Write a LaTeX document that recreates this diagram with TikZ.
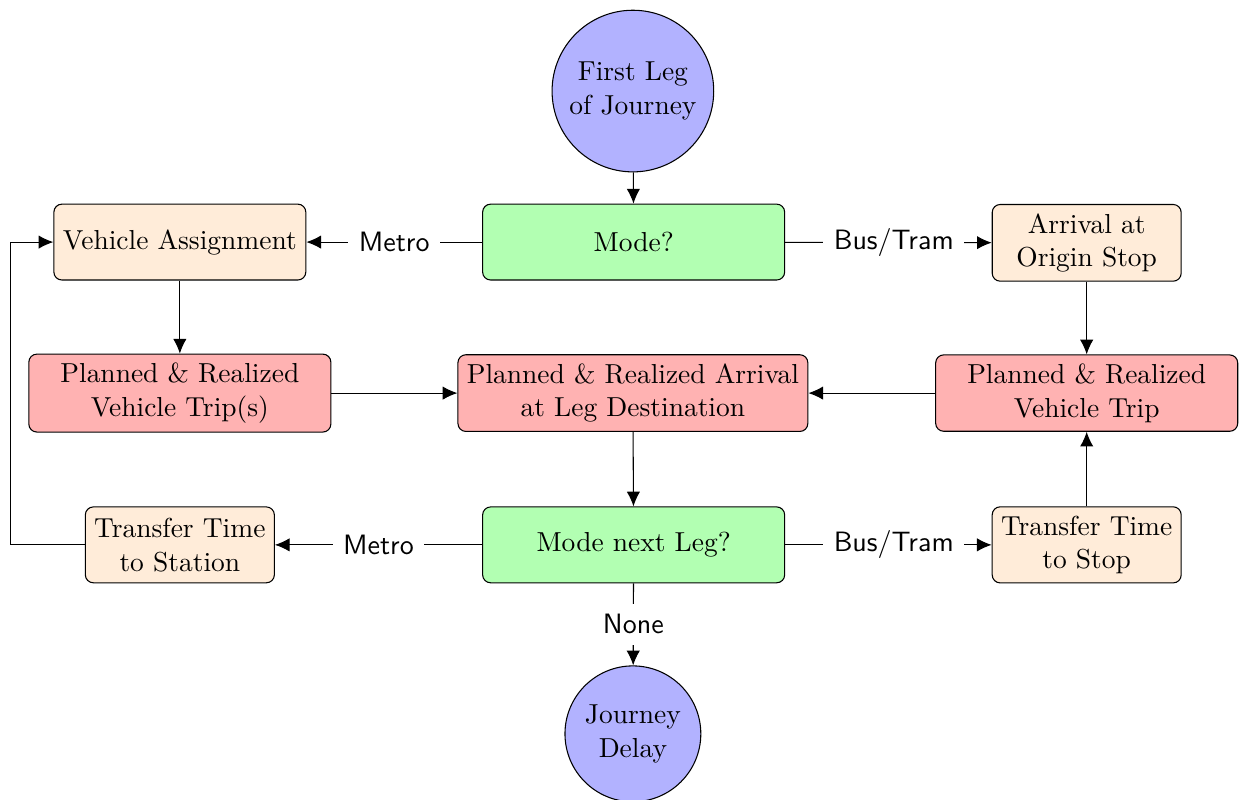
\documentclass[tikz,border=0pt]{standalone}
\usetikzlibrary{arrows.meta}
\begin{document}
\begin{tikzpicture}[
    box/.style={draw, rounded corners=3pt, minimum height=1cm, align=center,
                font=\fontsize{10.3}{12.6}\selectfont},
    term/.style={draw, circle, fill=blue!30, align=center, inner sep=0pt,
                font=\fontsize{10.3}{12.6}\selectfont},
    arrow/.style={-{Latex[length=5.5pt, width=5pt]}},
    lbl/.style={fill=white, inner sep=4pt, font=\sffamily\fontsize{10.5}{12.6}\selectfont}
]
\useasboundingbox (0,0) rectangle (16.38,-10.54);

% start
\node[term, minimum size=2.13cm] (start) at (8.34, -1.20) {First Leg\\of Journey};

% first row
\node[box, fill=green!30, minimum width=3.98cm] (mode) at (8.35, -3.19) {Mode?};
\node[box, fill=orange!15, minimum width=3.32cm] (assign) at (2.37, -3.19) {Vehicle Assignment};
\node[box, fill=orange!15, minimum width=2.49cm] (origin) at (14.32, -3.20) {Arrival at\\Origin Stop};

% second row
\node[box, fill=red!30, minimum width=3.98cm] (tripmetro) at (2.37, -5.18) {Planned \& Realized\\Vehicle Trip(s)};
\node[box, fill=red!30, minimum width=4.52cm] (arrival) at (8.34, -5.18) {Planned \& Realized Arrival\\at Leg Destination};
\node[box, fill=red!30, minimum width=3.98cm] (tripbus) at (14.32, -5.18) {Planned \& Realized\\Vehicle Trip};

% third row
\node[box, fill=orange!15, minimum width=2.49cm] (tostation) at (2.37, -7.18) {Transfer Time\\to Station};
\node[box, fill=green!30, minimum width=3.98cm] (nextmode) at (8.35, -7.18) {Mode next Leg?};
\node[box, fill=orange!15, minimum width=2.49cm] (tostop) at (14.32, -7.18) {Transfer Time\\to Stop};

% end
\node[term, minimum size=1.79cm] (delay) at (8.34, -9.67) {Journey\\Delay};

% Arrows
\draw[arrow] (start) -- (mode);
\draw[arrow] (mode) -- node[lbl] {Metro} (assign);
\draw[arrow] (mode) -- node[lbl, xshift=2pt] {Bus/Tram} (origin);
\draw[arrow] (assign) -- (tripmetro);
\draw[arrow] (origin) -- (tripbus);
\draw[arrow] (tripmetro) -- (arrival);
\draw[arrow] (tripbus) -- (arrival);
\draw[arrow] (arrival) -- (nextmode);
\draw[arrow] (nextmode) -- node[lbl] {Metro} (tostation);
\draw[arrow] (nextmode) -- node[lbl, xshift=2pt] {Bus/Tram} (tostop);
\draw[arrow] (tostop) -- (tripbus);
\draw[arrow] (nextmode) -- node[lbl] {None} (delay);

% loop back to vehicle assignment
\draw[arrow] (tostation.west) -- ++(-0.98,0) |- (assign.west);
\end{tikzpicture}
\end{document}
